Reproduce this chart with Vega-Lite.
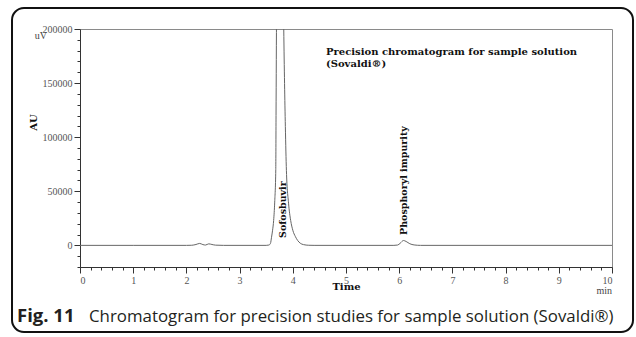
{
  "$schema": "https://vega.github.io/schema/vega-lite/v6.json",
  "width": 532,
  "height": 238,
  "autosize": {"type": "none"},
  "padding": {"left": 80, "top": 29, "right": 24, "bottom": 70},
  "background": "white",
  "view": {"stroke": "#8a8a8a", "strokeWidth": 1},
  "datasets": {
    "trace": [
      {"t": 0, "uv": 0}, {"t": 1, "uv": 0}, {"t": 2.0, "uv": 0}, {"t": 2.1, "uv": 100},
      {"t": 2.18, "uv": 800}, {"t": 2.25, "uv": 1800}, {"t": 2.31, "uv": 700}, {"t": 2.36, "uv": 300},
      {"t": 2.42, "uv": 1400}, {"t": 2.48, "uv": 800}, {"t": 2.55, "uv": 200}, {"t": 2.7, "uv": 0},
      {"t": 3.5, "uv": 0}, {"t": 3.55, "uv": 300}, {"t": 3.58, "uv": 1800}, {"t": 3.6, "uv": 7500},
      {"t": 3.62, "uv": 14000}, {"t": 3.64, "uv": 23000}, {"t": 3.66, "uv": 40000}, {"t": 3.68, "uv": 70000},
      {"t": 3.685, "uv": 120000}, {"t": 3.695, "uv": 220000}, {"t": 3.72, "uv": 350000}, {"t": 3.76, "uv": 420000},
      {"t": 3.8, "uv": 340000}, {"t": 3.83, "uv": 200000}, {"t": 3.86, "uv": 110000}, {"t": 3.88, "uv": 69000},
      {"t": 3.92, "uv": 39000}, {"t": 3.96, "uv": 23000}, {"t": 4.0, "uv": 14000}, {"t": 4.05, "uv": 8000},
      {"t": 4.09, "uv": 4600}, {"t": 4.14, "uv": 2000}, {"t": 4.2, "uv": 700}, {"t": 4.3, "uv": 100},
      {"t": 4.4, "uv": 0}, {"t": 5.9, "uv": 0}, {"t": 5.97, "uv": 300}, {"t": 6.02, "uv": 2000},
      {"t": 6.08, "uv": 4500}, {"t": 6.13, "uv": 3600}, {"t": 6.2, "uv": 1500}, {"t": 6.28, "uv": 400},
      {"t": 6.4, "uv": 0}, {"t": 10, "uv": 0}
    ],
    "peaks": [
      {"t": 3.816, "uv": 6840, "name": "Sofosbuvir"},
      {"t": 6.09, "uv": 9600, "name": "Phosphoryl impurity"}
    ]
  },
  "encoding": {
    "x": {
      "field": "t", "type": "quantitative",
      "scale": {"domain": [0, 10], "nice": false, "zero": false},
      "axis": {
        "title": "Time",
        "titleFont": "DejaVu Serif", "titleFontWeight": "bold", "titleFontSize": 10, "titleColor": "#111",
        "titleY": 19, "titleBaseline": "middle",
        "values": [0,0.2,0.4,0.6,0.8,1,1.2,1.4,1.6,1.8,2,2.2,2.4,2.6,2.8,3,3.2,3.4,3.6,3.8,4,4.2,4.4,4.6,4.8,5,5.2,5.4,5.6,5.8,6,6.2,6.4,6.6,6.8,7,7.2,7.4,7.6,7.8,8,8.2,8.4,8.6,8.8,9,9.2,9.4,9.6,9.8,10],
        "labelExpr": "abs(datum.value - round(datum.value)) < 0.001 ? format(datum.value, 'd') : ''",
        "labelOverlap": false,
        "tickSize": {"condition": {"test": "abs(datum.value - round(datum.value)) < 0.001", "value": 6}, "value": 3},
        "labelFont": "Liberation Serif", "labelFontSize": 10, "labelColor": "#555", "labelPadding": 2,
        "domainColor": "#333", "tickColor": "#333", "grid": false
      }
    },
    "y": {
      "field": "uv", "type": "quantitative",
      "scale": {"domain": [-20000, 200000], "nice": false, "zero": false},
      "axis": {
        "title": "AU",
        "titleFont": "DejaVu Serif", "titleFontWeight": "bold", "titleFontSize": 10, "titleColor": "#111",
        "titleX": -47, "titleY": 93, "titleAngle": 270, "titleBaseline": "middle", "titleAlign": "center",
        "values": [-20000,-10000,0,10000,20000,30000,40000,50000,60000,70000,80000,90000,100000,110000,120000,130000,140000,150000,160000,170000,180000,190000,200000],
        "format": "d",
        "labelExpr": "datum.value % 50000 === 0 ? datum.label : ''",
        "labelOverlap": false,
        "tickSize": {"condition": {"test": "datum.value % 50000 === 0", "value": 6}, "value": 3},
        "labelFont": "Liberation Serif", "labelFontSize": 10, "labelColor": "#555", "labelPadding": 2,
        "domainColor": "#333", "tickColor": "#333", "grid": false
      }
    }
  },
  "layer": [
    {
      "data": {"values": [{"t": -1.278, "t2": 10.395, "uv": 219450, "uv2": -80050}]},
      "mark": {"type": "rect", "clip": false, "filled": false, "stroke": "#111", "strokeWidth": 2, "strokeOpacity": 1, "cornerRadius": 12},
      "encoding": {
        "x2": {"field": "t2"},
        "y2": {"field": "uv2"}
      }
    },
    {
      "data": {"name": "trace"},
      "mark": {"type": "line", "clip": true, "color": "#666", "strokeWidth": 1, "interpolate": "monotone"}
    },
    {
      "data": {"name": "peaks"},
      "mark": {"type": "text", "angle": 270, "align": "left", "baseline": "middle", "font": "DejaVu Serif", "fontWeight": "bold", "fontSize": 9.5, "color": "#111"},
      "encoding": {"text": {"field": "name"}}
    },
    {
      "data": {"values": [{"t": 4.624, "uv": 176300, "label": ["Precision chromatogram for sample solution", "(Sovaldi®)"]}]},
      "mark": {"type": "text", "align": "left", "baseline": "alphabetic", "font": "DejaVu Serif", "fontWeight": "bold", "fontSize": 10, "lineHeight": 12.7, "color": "#111"},
      "encoding": {"text": {"field": "label"}}
    },
    {
      "data": {"values": [{"t": -0.62, "uv": 193300, "label": "uV"}, {"t": 10, "uv": -42150, "label": "min"}]},
      "mark": {"type": "text", "align": "right", "baseline": "middle", "font": "Liberation Serif", "fontSize": 10, "color": "#444"},
      "encoding": {"text": {"field": "label"}}
    },
    {
      "data": {"values": [{"t": -1.184, "uv": -70530, "label": "Fig. 11"}]},
      "mark": {"type": "text", "align": "left", "baseline": "alphabetic", "font": "Open Sans", "fontWeight": "bold", "fontSize": 18.5, "color": "#231f20"},
      "encoding": {"text": {"field": "label"}}
    },
    {
      "data": {"values": [{"t": 0.169, "uv": -70530, "label": "Chromatogram for precision studies for sample solution (Sovaldi®)"}]},
      "mark": {"type": "text", "align": "left", "baseline": "alphabetic", "font": "Open Sans", "fontSize": 16.85, "color": "#231f20"},
      "encoding": {"text": {"field": "label"}}
    }
  ]
}
